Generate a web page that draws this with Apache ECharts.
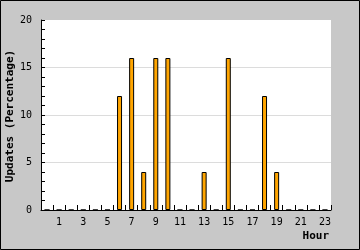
<!DOCTYPE html>
<html>
<head>
<meta charset="utf-8">
<script src="https://cdn.jsdelivr.net/npm/echarts@6/dist/echarts.min.js"></script>
<style>html,body{margin:0;padding:0;background:#c8c8c8}#c{width:360px;height:250px}</style>
</head>
<body>
<div id="c"></div>
<script>
const hours = ['0','1','2','3','4','5','6','7','8','9','10','11','12','13','14','15','16','17','18','19','20','21','22','23'];
const updates = [0,0,0,0,0,0,12,16,4,16,16,0,0,4,0,16,0,0,12,4,0,0,0,0];
const yTitle = 'Updates (Percentage)';
const xTitle = 'Hour';

const font = 'DejaVu Sans Mono';
const chart = echarts.init(document.getElementById('c'), null, {renderer:'canvas'});
chart.setOption({
  backgroundColor: '#c8c8c8',
  animation: false,
  grid: {left: 41, top: 20, width: 290, bottom: 40, show: true, backgroundColor: '#ffffff', borderWidth: 0},
  xAxis: {
    type: 'category', data: hours, boundaryGap: true,
    axisLine: {lineStyle: {color: '#000', width: 1}},
    axisTick: {show: true, inside: true, length: 5, interval: 0, lineStyle: {color: '#000'}},
    axisLabel: {interval: (i) => i % 2 === 1, color: '#000', fontFamily: font, fontSize: 10, margin: 7}
  },
  yAxis: {
    type: 'value', min: 0, max: 20, interval: 5,
    axisLine: {show: true, lineStyle: {color: '#000', width: 1}},
    axisTick: {show: true, inside: true, length: 4, lineStyle: {color: '#000'}},
    minorTick: {show: true, splitNumber: 5, length: 4, lineStyle: {color: '#000'}},
    splitLine: {show: true, lineStyle: {color: ['#dcdcdc','#dcdcdc','#dcdcdc','#dcdcdc','#ffffff'], width: 1}},
    axisLabel: {color: '#000', fontFamily: font, fontSize: 10, margin: 9}
  },
  series: [{
    type: 'bar', data: updates, barWidth: 5,
    itemStyle: {color: '#ffa500', borderColor: '#000', borderWidth: 1}
  }],
  graphic: [
    {type: 'rect', shape: {x: 0.5, y: 0.5, width: 359, height: 249}, style: {fill: 'none', stroke: '#000', lineWidth: 1}, z: 100},
    {type: 'text', x: 10, y: 116, rotation: Math.PI/2, style: {text: yTitle, font: 'bold 11px "DejaVu Sans Mono"', fill: '#000', align: 'center', verticalAlign: 'middle'}},
    {type: 'text', x: 329, y: 236, style: {text: xTitle, font: 'bold 11px "DejaVu Sans Mono"', fill: '#000', align: 'right', verticalAlign: 'middle'}}
  ]
});
</script>
</body>
</html>
